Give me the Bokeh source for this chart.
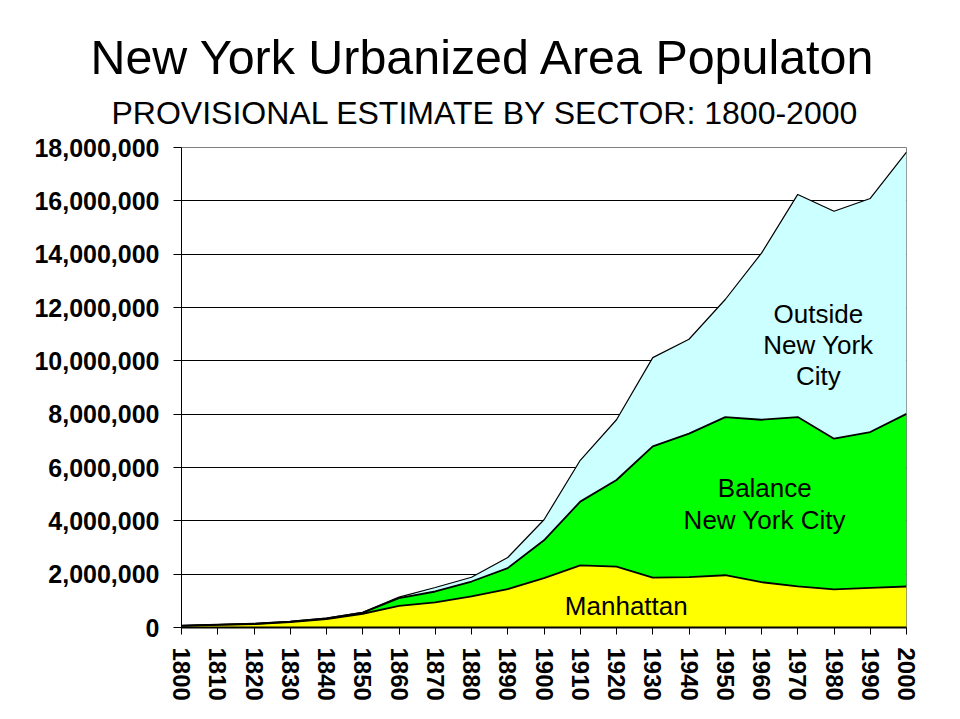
from bokeh.plotting import figure
from bokeh.models import (ColumnDataSource, Range1d, FixedTicker, NumeralTickFormatter,
                          Label, Title)
from bokeh.embed import file_html
from bokeh.resources import INLINE

# ---- data ----
years = [1800, 1810, 1820, 1830, 1840, 1850, 1860, 1870, 1880, 1890, 1900,
         1910, 1920, 1930, 1940, 1950, 1960, 1970, 1980, 1990, 2000]
manhattan = [60515, 96373, 123706, 202589, 312710, 515547, 813669, 942292,
             1164673, 1441216, 1850093, 2331542, 2284103, 1867312, 1889924,
             1960101, 1698281, 1539233, 1428285, 1487536, 1537195]
balance_nyc = [10000, 12000, 16000, 17000, 27000, 45000, 286000, 408000,
               560000, 785000, 1420000, 2388000, 3246000, 4923000, 5380000,
               5930000, 6092000, 6351000, 5652000, 5842000, 6473000]
outside_nyc = [5000, 5000, 8000, 10000, 15000, 12000, 40000, 150000,
               160000, 400000, 770000, 1550000, 2260000, 3330000, 3540000,
               4410000, 6250000, 8350000, 8530000, 8760000, 9820000]
y_ticks = [0, 2000000, 4000000, 6000000, 8000000, 10000000, 12000000,
           14000000, 16000000, 18000000]

title_text = "New York Urbanized Area Populaton"
subtitle_text = "PROVISIONAL ESTIMATE BY SECTOR: 1800-2000"

FONT = "Liberation Sans"

src = ColumnDataSource(dict(year=years, m=manhattan, b=balance_nyc, o=outside_nyc))

p = figure(width=944, height=703,
           x_range=Range1d(1800, 2000), y_range=Range1d(0, 18000000),
           output_backend="svg", toolbar_location=None,
           min_border_left=181, min_border_right=38,
           min_border_top=147, min_border_bottom=73)

p.background_fill_color = "white"
p.border_fill_color = "white"
p.outline_line_color = "#808080"
p.outline_line_width = 1

# stacked areas
p.varea_stack(["m", "b", "o"], x="year", source=src,
              color=["#FFFF00", "#00FF00", "#CCFFFF"])
p.vline_stack(["m", "b", "o"], x="year", source=src,
              line_color="black", line_width=[1.8, 1.8, 1.2])

# grid
p.xgrid.visible = False
p.ygrid.ticker = FixedTicker(ticks=y_ticks)
p.ygrid.grid_line_color = "black"
p.ygrid.grid_line_width = 1

# axes
p.yaxis.ticker = FixedTicker(ticks=y_ticks)
p.yaxis.formatter = NumeralTickFormatter(format="0,0")
p.yaxis.major_label_text_font = FONT
p.yaxis.major_label_text_font_style = "bold"
p.yaxis.major_label_text_font_size = "25px"
p.yaxis.major_label_text_color = "black"
p.yaxis.major_tick_out = 8
p.yaxis.major_tick_in = 0
p.yaxis.minor_tick_line_color = None
p.yaxis.major_label_standoff = 14
p.yaxis.axis_line_color = "black"
p.yaxis.major_tick_line_color = "black"

p.xaxis.ticker = FixedTicker(ticks=years)
p.xaxis.major_label_orientation = "vertical"
p.xaxis.major_label_text_font = FONT
p.xaxis.major_label_text_font_style = "bold"
p.xaxis.major_label_text_font_size = "24px"
p.xaxis.major_label_text_color = "black"
p.xaxis.major_tick_out = 7
p.xaxis.major_tick_in = 0
p.xaxis.minor_tick_line_color = None
p.xaxis.major_label_standoff = 13
p.xaxis.axis_line_color = "black"
p.xaxis.axis_line_width = 2
p.xaxis.major_tick_line_color = "black"

# titles
p.add_layout(Title(text=subtitle_text, align="left", offset=-70,
                   text_font=FONT, text_font_size="32px",
                   text_font_style="normal", text_color="black",
                   standoff=33), "above")
p.add_layout(Title(text=title_text, align="left", offset=-91,
                   text_font=FONT, text_font_size="48.4px",
                   text_font_style="normal", text_color="black",
                   standoff=-14), "above")

# area labels
area_labels = [
    ("Outside", 1975.7, 11750000),
    ("New York", 1975.7, 10590000),
    ("City", 1975.7, 9420000),
    ("Balance", 1960.9, 5230000),
    ("New York City", 1960.9, 4050000),
    ("Manhattan", 1922.7, 820000),
]
for txt, lx, ly in area_labels:
    p.add_layout(Label(x=lx, y=ly, text=txt, text_font=FONT,
                       text_font_size="26px", text_align="center",
                       text_baseline="alphabetic", text_color="black"))

open("out.html", "w").write(file_html(p, INLINE))
